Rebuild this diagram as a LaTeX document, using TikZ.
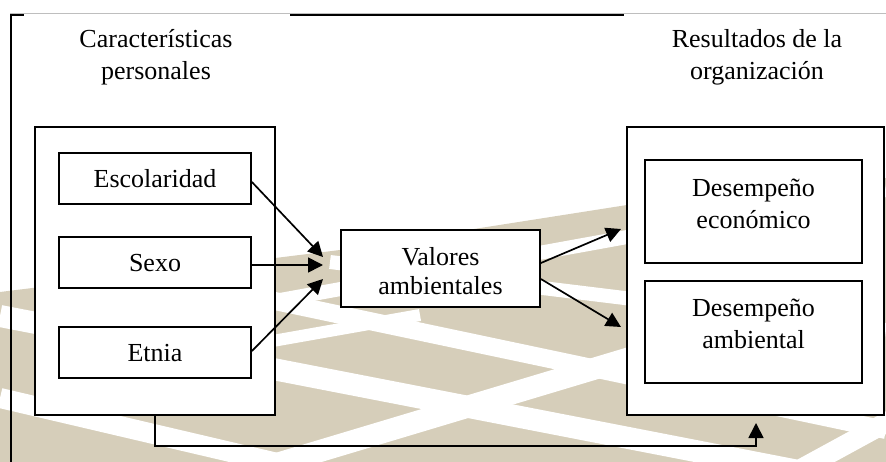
\documentclass[tikz,border=0pt]{standalone}
\usepackage{fontspec}
\setmainfont{Liberation Serif}
\usetikzlibrary{arrows.meta,calc}
\definecolor{tile}{RGB}{214,206,186}
\definecolor{topgray}{RGB}{190,190,190}
\tikzset{
  box/.style={draw=black, line width=1.8pt, fill=white, inner sep=0pt},
  lbl/.style={font=\fontsize{26}{32}\selectfont, align=center, inner sep=0pt},
  conn/.style={line width=1.7pt, -{Triangle[length=15pt,width=15pt]}},
  stripe/.style={draw=white, line cap=butt},
  frame/.style={line width=1.8pt}
}
\begin{document}
\begin{tikzpicture}[x=1pt,y=-1pt]
\useasboundingbox (0,0) rectangle (886,462);
% background floor
\fill[tile] (0,292) -- (340,250) -- (627,205) -- (886,178) -- (886,462) -- (0,462) -- cycle;
\draw[stripe, line width=20pt] (0,398) -- (320,473);
\draw[stripe, line width=22pt] (0,316) -- (886,488);
\draw[stripe, line width=18pt] (270,300) -- (886,430);
\draw[stripe, line width=14pt] (330,262) -- (886,330);
\draw[stripe, line width=22pt] (240,475) -- (640,355);
\draw[stripe, line width=14pt] (280,300) -- (886,190);
\draw[stripe, line width=12pt] (250,345) -- (420,315);
\draw[stripe, line width=20pt] (790,475) -- (900,415);
% frame
\draw[frame] (11,15) -- (625,15);
\draw[frame] (11,14.1) -- (11,462);
% title areas
\fill[white] (24,14) rectangle (290,110);
\fill[white] (624,14) rectangle (886,98);
\draw[topgray, line width=0.8pt] (10,13) -- (886,13);
\node[lbl] (t1) at (156,57) {Características\\personales};
\node[lbl] (t2) at (757,57) {Resultados de la\\organización};
% big containers
\node[box, minimum width=240pt, minimum height=288pt] (lbig) at (155,271) {};
\node[box, minimum width=257pt, minimum height=288pt] (rbig) at (755.5,271) {};
% inner boxes
\node[box, minimum width=192pt, minimum height=51pt] (esc) at (155,178.5) {};
\node[lbl] (escT) at (155,179) {Escolaridad};
\node[box, minimum width=192pt, minimum height=51pt] (sexo) at (155,262.5) {};
\node[lbl] (sexoT) at (155,263) {Sexo};
\node[box, minimum width=192pt, minimum height=51pt] (etnia) at (155,352.5) {};
\node[lbl] (etniaT) at (155,353) {Etnia};
\node[box, minimum width=199pt, minimum height=77pt] (val) at (440.5,268.5) {};
\node[lbl, font=\fontsize{26}{29}\selectfont] (valT) at (440.5,271) {Valores\\ambientales};
\node[box, minimum width=217pt, minimum height=103pt] (econ) at (753.5,211.5) {};
\node[lbl] (econT) at (753.5,204) {Desempeño\\económico};
\node[box, minimum width=217pt, minimum height=102pt] (amb) at (753.5,332) {};
\node[lbl] (ambT) at (753.5,324) {Desempeño\\ambiental};
% connector ends
\coordinate (v1) at (323,257);
\coordinate (v2) at (323,265);
\coordinate (v3) at (323,279);
\coordinate (r1) at (621,229);
\coordinate (r2) at (621,327);
\coordinate (bl) at (155,446);
\coordinate (br) at (756,446);
\coordinate (bt) at (756,423);
% connectors
\draw[conn] ($(esc.east)+(0,3.5)$) -- (v1);
\draw[conn] ($(sexo.east)+(0,2.5)$) -- (v2);
\draw[conn] ($(etnia.east)+(0,-1.5)$) -- (v3);
\draw[conn] ($(val.east)+(0,-5.5)$) -- (r1);
\draw[conn] ($(val.east)+(0,10.5)$) -- (r2);
\draw[conn] (lbig.south) -- (bl) -- (br) -- (bt);
\end{tikzpicture}
\end{document}
